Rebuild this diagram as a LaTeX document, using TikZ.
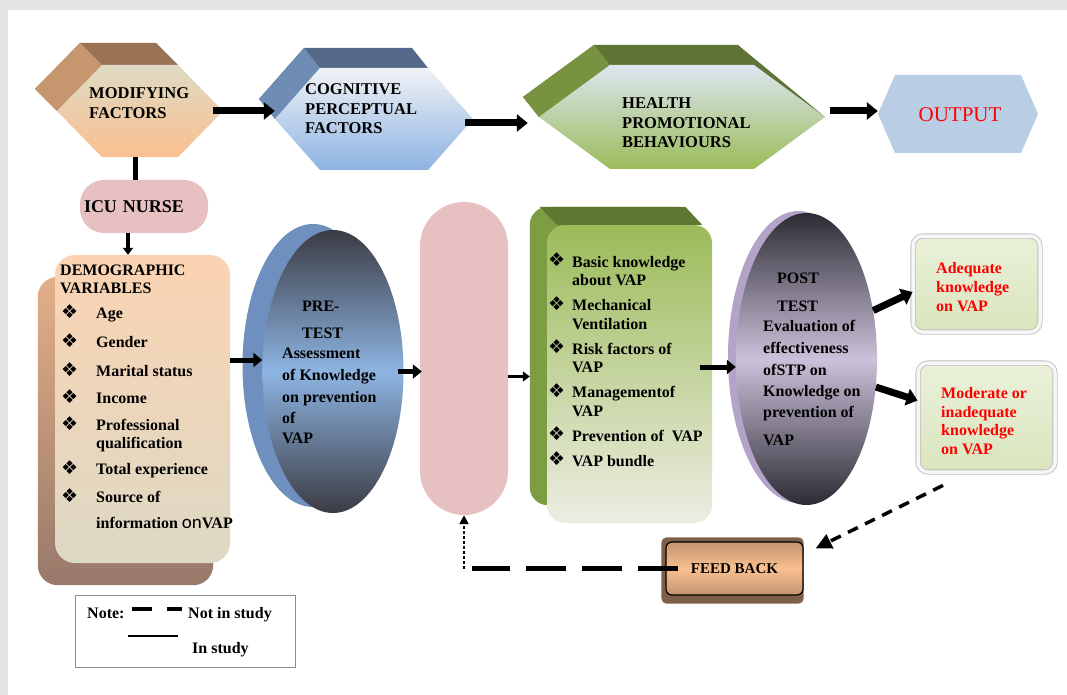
\documentclass[tikz,border=0pt]{standalone}
\usepackage{fontspec}
\setmainfont{Liberation Serif}
\newfontfamily\dingfont{DejaVu Sans}
\newfontfamily\calfont{Carlito}
\usetikzlibrary{positioning,arrows.meta,shapes.geometric,backgrounds,calc}
\definecolor{pagegray}{HTML}{E3E3E3}
\definecolor{modback}{HTML}{9A7354}
\definecolor{modside}{HTML}{C6976F}
\definecolor{modtop}{HTML}{DEDAC4}
\definecolor{modbot}{HTML}{FAC08F}
\definecolor{cogback}{HTML}{55698A}
\definecolor{cogside}{HTML}{6F8DB4}
\definecolor{cogtop}{HTML}{F0F2F5}
\definecolor{cogbot}{HTML}{8DB3E2}
\definecolor{hpbback}{HTML}{5F7434}
\definecolor{hpbside}{HTML}{77933F}
\definecolor{hpbtop}{HTML}{DCE6F1}
\definecolor{hpbbot}{HTML}{9BBB59}
\definecolor{outfill}{HTML}{B9CDE5}
\definecolor{outred}{HTML}{FF0000}
\definecolor{rose}{HTML}{E7C0C2}
\definecolor{demotop}{HTML}{FBD3B3}
\definecolor{demobot}{HTML}{DDD9C4}
\definecolor{demoshtop}{HTML}{E3AF89}
\definecolor{demoshbot}{HTML}{98796A}
\definecolor{predark}{HTML}{3B3B43}
\definecolor{prelight}{HTML}{8DB4E2}
\definecolor{preback}{HTML}{6F8FBE}
\definecolor{grntop}{HTML}{9BBB59}
\definecolor{grnbot}{HTML}{EDEDE3}
\definecolor{grnback}{HTML}{5F7832}
\definecolor{grnside}{HTML}{7D9D44}
\definecolor{postdark}{HTML}{2C2C34}
\definecolor{postlight}{HTML}{CCC1DA}
\definecolor{postback}{HTML}{B3A3C8}
\definecolor{restop}{HTML}{EAF1D9}
\definecolor{resbot}{HTML}{D9E5BE}
\definecolor{resrim}{HTML}{BDBDBD}
\definecolor{resrimin}{HTML}{F6F6F6}
\definecolor{fbback}{HTML}{7E5F49}
\definecolor{fbtop}{HTML}{C29470}
\definecolor{fbmid}{HTML}{FAC090}
\definecolor{notegray}{HTML}{8C8C8C}
\tikzset{
  frame/.style 2 args={inner sep=0pt,minimum width=#1,minimum height=#2},
  txt/.style={inner sep=0pt,anchor=north west,font=\bfseries\fontsize{16}{19}\selectfont},
  hdr/.style={txt,font=\bfseries\fontsize{16.5}{19.5}\selectfont},
  redtxt/.style={txt,text=outred},
  pillbox/.style={fill=rose,inner sep=0pt},
  result/.style={rounded corners=10pt,draw=resrim,double=resrimin,double distance=3.5pt,
    line width=0.8pt,top color=restop,bottom color=resbot,inner sep=0pt},
  ar/.style={-{Triangle[length=11pt,width=17pt]},line width=7pt},
  armd/.style={-{Triangle[length=9pt,width=14pt]},line width=5pt},
  arsm/.style={-{Triangle[length=7pt,width=10pt]},line width=3.5pt},
  conn/.style={line width=5pt},
  fbdash/.style={line width=5pt,dash pattern=on 40pt off 16pt},
  fbdot/.style={-{Triangle[length=9pt,width=9pt]},line width=2.5pt,dash pattern=on 2.5pt off 2.5pt},
  fbarr/.style={-{Triangle[length=16pt,width=15pt]},line width=3.5pt,dash pattern=on 11pt off 8pt},
}
\newcommand\stack[1]{\begin{tabular}{@{}l@{}}#1\end{tabular}}
\newcommand\bul[1]{\makebox[#1][l]{\hspace*{1pt}\dingfont\fontsize{19}{19}\selectfont\raisebox{0.5pt}[0pt][0pt]{❖}}}
% hexagon: centre x, centre y, half width, half height, corner inset
\newcommand\hexpath[5]{({#1-#3},{#2}) -- ({#1-#3+#5},{#2-#4}) -- ({#1+#3-#5},{#2-#4})
  -- ({#1+#3},{#2}) -- ({#1+#3-#5},{#2+#4}) -- ({#1-#3+#5},{#2+#4}) -- cycle}
% bevelled hexagon: as above, then depth x, depth y, colour prefix
\newcommand\bevelhex[8]{%
  \fill[#8back] ({#1-#6-#3},{#2-#7}) -- ({#1-#6-#3+#5},{#2-#7-#4}) -- ({#1-#6+#3-#5},{#2-#7-#4})
    -- ({#1+#3-#5},{#2-#4}) -- ({#1-#3+#5},{#2-#4}) -- ({#1-#3},{#2}) -- cycle;
  \fill[#8side] ({#1-#6-#3},{#2-#7}) -- ({#1-#6-#3+#5},{#2-#7-#4}) -- ({#1-#3+#5},{#2-#4}) -- ({#1-#3},{#2}) -- cycle;
  \shade[top color=#8top,bottom color=#8bot] \hexpath{#1}{#2}{#3}{#4}{#5};
}

\begin{document}
\begin{tikzpicture}[x=1pt,y=-1pt]
  \useasboundingbox (0,0) rectangle (1067,695);
  \begin{scope}[on background layer]
    \fill[pagegray] (0,0) rectangle (1067,695);
    \fill[white] (8,10) rectangle (1067,695);
  \end{scope}

  % top row
  \bevelhex{140}{111}{83}{46}{45}{22}{22}{mod}
  \bevelhex{374}{119}{99}{51}{45}{16}{20}{cog}
  \fill[hpbback] (738,45) -- (825,117) -- (738,65) -- cycle;
  \bevelhex{682}{117}{143}{52}{71}{16}{20}{hpb}
  \fill[outfill] \hexpath{958}{114}{80}{39}{17};
  \node[frame={166pt}{92pt}] (modf) at (140,111) {};
  \node[frame={198pt}{102pt}] (cog) at (374,119) {};
  \node[frame={286pt}{104pt}] (hpb) at (682,117) {};
  \node[frame={160pt}{78pt}] (outp) at (958,114) {};
  \node[hdr] (modft) at (89,85) {\stack{MODIFYING\\FACTORS}};
  \node[hdr] (cogt) at (305,81) {\stack{COGNITIVE\\PERCEPTUAL\\FACTORS}};
  \node[hdr] (hpbt) at (622,95) {\stack{HEALTH\\PROMOTIONAL\\BEHAVIOURS}};
  \node[inner sep=0pt,text=outred,font=\fontsize{21}{24}\selectfont] (outt) at (960,115) {OUTPUT};

  % left column
  \node[pillbox,rounded corners=24pt,minimum width=128pt,minimum height=53pt,text width=120pt,
    align=left,inner xsep=4pt,font=\bfseries\fontsize{18}{20}\selectfont] (icu) at (144,206.5) {ICU NURSE};
  \node[frame={175pt}{308pt},rounded corners=20pt,top color=demotop,bottom color=demobot] (demo) at (142.5,409) {};
  \node[txt,font=\bfseries\fontsize{16}{17.5}\selectfont] (demot) at (60,263.25) {\stack{DEMOGRAPHIC\\VARIABLES\\[8pt]
    \bul{36pt}Age\\[11.5pt]
    \bul{36pt}Gender\\[11.5pt]
    \bul{36pt}Marital status\\[9.5pt]
    \bul{36pt}Income\\[9.5pt]
    \bul{36pt}Professional\\[0.5pt]
    \hspace*{36pt}qualification\\[8.5pt]
    \bul{36pt}Total experience\\[10.5pt]
    \bul{36pt}Source of\\[8.5pt]
    \hspace*{36pt}information {\calfont\mdseries\fontsize{19}{19}\selectfont on}VAP}};

  % pre test
  \node[ellipse,frame={141pt}{283pt},top color=predark,bottom color=predark,middle color=prelight] (pre) at (333,371.5) {};
  \node[txt,font=\bfseries\fontsize{16}{21}\selectfont] (pret) at (282,296.8) {\stack{\hspace*{20pt}PRE-\\[6pt]
    \hspace*{20pt}TEST\\[-1pt]
    Assessment\\[1pt]
    of Knowledge\\[1pt]
    on prevention\\
    of\\[-1pt]
    VAP}};

  % intervention
  \node[pillbox,rounded corners=44pt,minimum width=88pt,minimum height=313pt] (pill) at (464,358.5) {};
  \node[frame={165pt}{298pt},rounded corners=18pt,top color=grntop,bottom color=grnbot] (grn) at (629.5,374) {};
  \node[txt,font=\bfseries\fontsize{16}{18.5}\selectfont] (grnt) at (547,254) {\stack{\bul{25pt}Basic knowledge\\
    \hspace*{25pt}about VAP\\[6.5pt]
    \bul{25pt}Mechanical\\
    \hspace*{25pt}Ventilation\\[6.5pt]
    \bul{25pt}Risk factors of\\
    \hspace*{25pt}VAP\\[6.5pt]
    \bul{25pt}Managementof\\
    \hspace*{25pt}VAP\\[6.5pt]
    \bul{25pt}Prevention of\ \ VAP\\[6.5pt]
    \bul{25pt}VAP bundle}};

  % post test
  \node[ellipse,frame={141pt}{292pt},top color=postdark,bottom color=postdark,middle color=postlight] (post) at (806.5,359) {};
  \node[txt,font=\bfseries\fontsize{16}{21.5}\selectfont] (postt) at (763,268.45) {\stack{\hspace*{14pt}POST\\[6.5pt]
    \hspace*{14pt}TEST\\[-1.5pt]
    Evaluation of\\[0.5pt]
    effectiveness\\[0.5pt]
    ofSTP on\\[-0.5pt]
    Knowledge on\\[-0.5pt]
    prevention of\\[6.5pt]
    VAP}};

  % results
  \node[result,minimum width=127pt,minimum height=96pt] (adq) at (976.5,284) {};
  \node[redtxt] (adqt) at (936,260.2) {\stack{Adequate\\knowledge\\on VAP}};
  \node[result,minimum width=137pt,minimum height=109pt] (mod) at (986.5,417.5) {};
  \node[redtxt,font=\bfseries\fontsize{16}{18.5}\selectfont] (modt) at (941,385.5) {\stack{Moderate or\\inadequate\\knowledge\\on VAP}};

  % feed back
  \node[frame={137pt}{53pt},draw=black,line width=1.2pt,rounded corners=6pt,
    top color=fbtop,bottom color=fbtop,middle color=fbmid,
    font=\bfseries\fontsize{15}{18}\selectfont] (fb) at (734.5,568.5) {FEED BACK};
  \coordinate (fbturn) at (pill.south |- fb.west);

  % back faces
  \begin{scope}[on background layer]
    \shade[top color=demoshtop,bottom color=demoshbot,rounded corners=20pt]
      ($(demo.north west)+(-17,22)$) rectangle ($(demo.south east)+(-17,22)$);
    \fill[preback] ($(pre.center)+(-20,-6)$) ellipse [x radius=70.5, y radius=141.5];
    \fill[grnside,rounded corners=18pt] ($(grn.north west)+(-17,-18)$) rectangle ($(grn.south east)+(-17,-18)$);
    \fill[grnback] ($(grn.north west)+(-7,-18)$) -- ($(grn.north east)+(-27,-18)$)
      -- ($(grn.north east)+(-10,0)$) -- ($(grn.north west)+(10,0)$) -- cycle;
    \fill[postback] ($(post.center)+(-8,-2)$) ellipse [x radius=70.5, y radius=146];
    \fill[fbback,rounded corners=5pt] ($(fb.north west)+(-4,-4)$) rectangle ($(fb.south east)+(0,8)$);
  \end{scope}

  % connectors
  \draw[ar] ([xshift=-10pt]modf.east) -- (modf.east -| cog.west);
  \draw[ar,shorten >=11pt] ([xshift=-8pt,yshift=-4pt]cog.east) -- ([yshift=-4pt]cog.east -| hpb.west);
  \draw[ar] ([xshift=5pt,yshift=6pt]hpb.east) -- ([yshift=6pt]hpb.east -| outp.west);
  \draw[conn] ([xshift=-5pt]modf.south) -- ([xshift=-5pt]modf.south |- icu.north);
  \draw[arsm] ([xshift=-16pt]icu.south) -- ([xshift=-16pt]icu.south |- demo.north);
  \draw[armd] ([yshift=49pt]demo.east) -- ([yshift=49pt]demo.east -| pre.west);
  \draw[armd,shorten >=-8pt] ([xshift=-6pt]pre.east) -- ([xshift=-6pt]pre.east -| pill.west);
  \draw[arsm,shorten >=17pt] ([yshift=-18pt]pill.east) -- ([yshift=-18pt]pill.east -| grn.west);
  \draw[armd] ([xshift=-12pt,yshift=7pt]grn.east) -- ([yshift=7pt]grn.east -| post.west);
  \draw[ar] (post.36) -- ([yshift=-8pt]adq.west);
  \draw[ar] (post.-22) -- ([yshift=17pt]mod.west);
  \draw[fbarr] ([xshift=-43.5pt,yshift=-13pt]mod.south) -- ([xshift=12pt,yshift=-7pt]fb.north east);
  \draw[fbdash] ([xshift=13pt]fb.west) -- ([xshift=8pt]fbturn);
  \draw[fbdot] (fbturn) -- (pill.south);

  % legend
  \node[draw=notegray,line width=1pt,frame={220pt}{72pt}] (note) at (185,631) {};
  \node[txt,anchor=base west] (notet) at (87,618) {Note:};
  \draw[line width=4.5pt] (132,609) -- (152,609) (167,609) -- (182,609);
  \node[txt,anchor=base west] (notnot) at (188,618) {Not in study};
  \draw[line width=2.5pt] (128,636) -- (178,636);
  \node[txt,anchor=base west] (notin) at (192,653) {In study};
\end{tikzpicture}
\end{document}
